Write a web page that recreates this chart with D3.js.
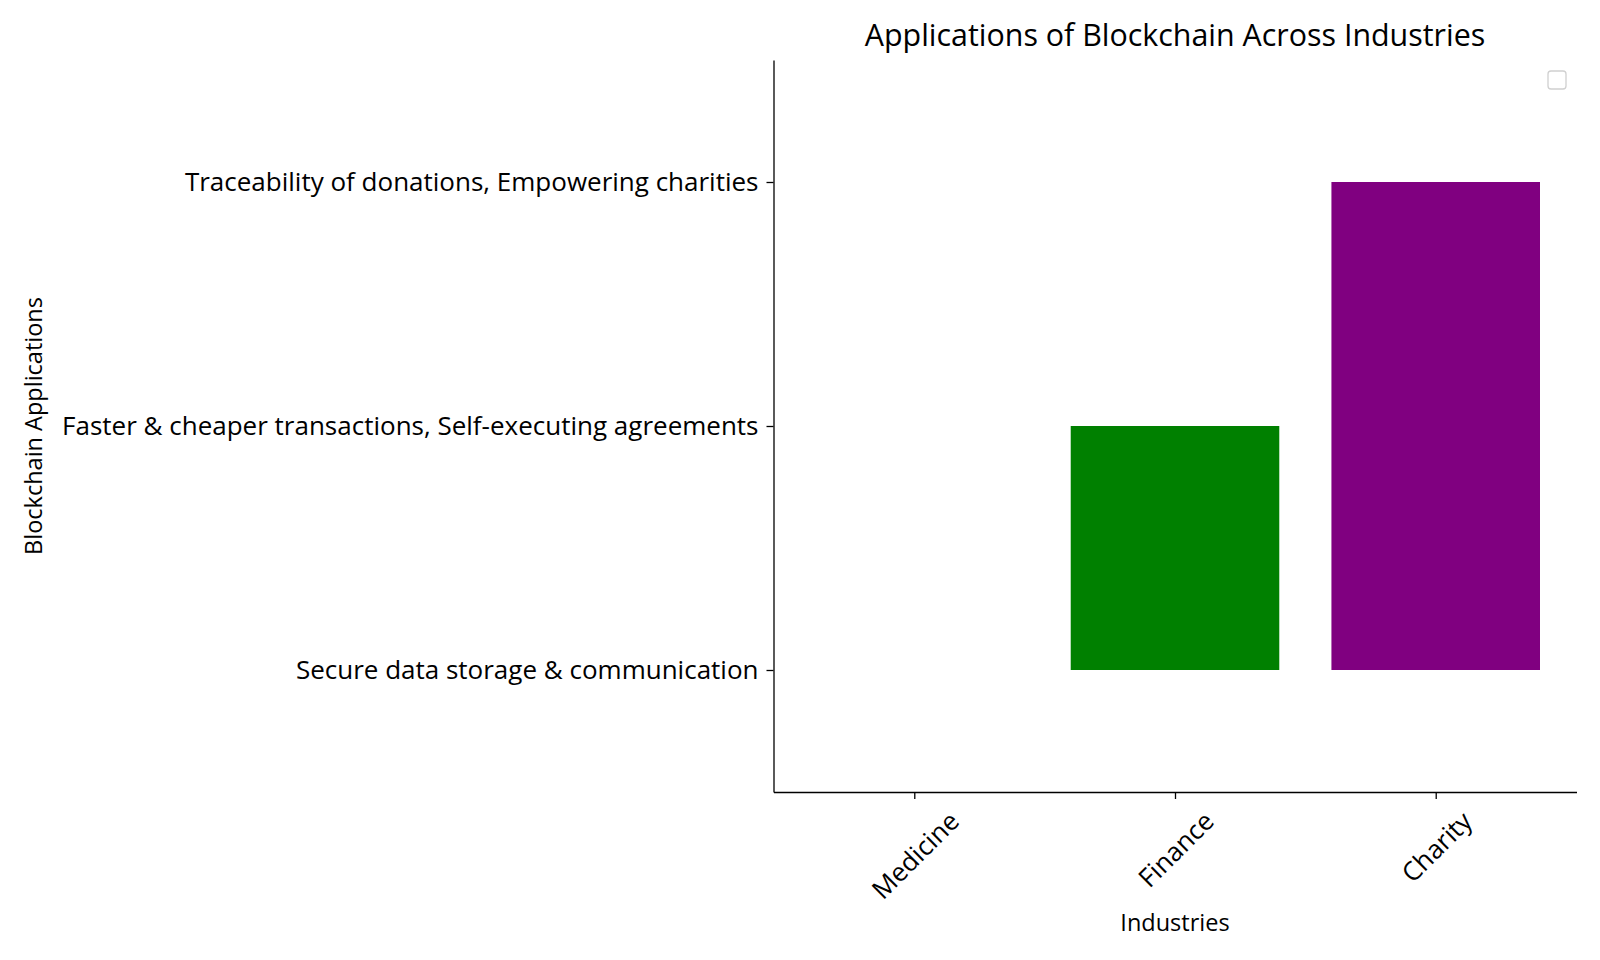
<!DOCTYPE html>
<html>
<head>
<meta charset="utf-8">
<script src="https://cdn.jsdelivr.net/npm/d3@7"></script>
<style>
  html, body { margin: 0; padding: 0; background: #fff; }
  svg { display: block; font-family: "Open Sans", sans-serif; }
  .tick text { fill: #000; font-family: "Open Sans", sans-serif; }
</style>
</head>
<body>
<svg id="chart" width="1600" height="960"></svg>
<script>
// categories on the x axis
var industries = ["Medicine", "Finance", "Charity"];

// categories on the y axis (bottom to top)
var applications = [
  "Secure data storage & communication",
  "Faster & cheaper transactions, Self-executing agreements",
  "Traceability of donations, Empowering charities"
];

// the application each industry maps to
var industryApps = [
  "Secure data storage & communication",
  "Faster & cheaper transactions, Self-executing agreements",
  "Traceability of donations, Empowering charities"
];

var barColors = ["#1f77b4", "#008000", "#800080"];

var chartTitle = "Applications of Blockchain Across Industries";
var xLabel = "Industries";
var yLabel = "Blockchain Applications";

var margin = { top: 60, right: 23.5, bottom: 168, left: 773.5 },
    width = 1600 - margin.left - margin.right,
    height = 960 - margin.top - margin.bottom;

var tickFont = 26;

var svg = d3.select("#chart");
var g = svg.append("g")
  .attr("transform", "translate(" + margin.left + "," + margin.top + ")");

// matplotlib style: bars of width 0.8 at 0..n-1, with 5% margins
var barWidth = 0.8;
var xPad = (industries.length - 1 + barWidth) * 0.05;
var x = d3.scaleLinear()
  .domain([-barWidth / 2 - xPad, industries.length - 1 + barWidth / 2 + xPad])
  .range([0, width]);

var y = d3.scaleLinear()
  .domain([-0.5, applications.length - 0.5])
  .range([height, 0]);

// bars
g.selectAll(".bar")
  .data(industries)
  .enter().append("rect")
  .attr("class", "bar")
  .attr("x", function(d, i) { return x(i - barWidth / 2); })
  .attr("width", function() { return x(barWidth) - x(0); })
  .attr("y", function(d, i) { return y(applications.indexOf(industryApps[i])); })
  .attr("height", function(d, i) { return y(0) - y(applications.indexOf(industryApps[i])); })
  .attr("fill", function(d, i) { return barColors[i]; });

// x axis
var xAxis = g.append("g")
  .attr("transform", "translate(0," + height + ")")
  .call(d3.axisBottom(x)
    .tickValues(d3.range(industries.length))
    .tickFormat(function(d) { return industries[d]; })
    .tickSize(7)
    .tickSizeOuter(0));

xAxis.attr("font-family", null).attr("font-size", null);
xAxis.select(".domain").attr("stroke", "#000").attr("stroke-width", 1.3);
xAxis.selectAll(".tick line").attr("stroke", "#000").attr("stroke-width", 1.3);

// rotate labels 45deg, centred under the tick like matplotlib's ha=center
xAxis.selectAll(".tick text")
  .attr("font-size", tickFont)
  .attr("text-anchor", "middle")
  .attr("dy", null)
  .attr("y", null)
  .each(function() {
    var t = d3.select(this);
    var w = this.getComputedTextLength();
    var h = tickFont * 0.75;
    var boxH = (w + h) / Math.SQRT2;
    var cy = 7 + 10 + boxH / 2;
    t.attr("dominant-baseline", "central")
      .attr("transform", "translate(0," + cy + ") rotate(-45)");
  });

// y axis
var yAxis = g.append("g")
  .call(d3.axisLeft(y)
    .tickValues(d3.range(applications.length))
    .tickFormat(function(d) { return applications[d]; })
    .tickSize(7)
    .tickSizeOuter(0));

yAxis.attr("font-family", null).attr("font-size", null);
yAxis.select(".domain").attr("stroke", "#000").attr("stroke-width", 1.3);
yAxis.selectAll(".tick line").attr("stroke", "#000").attr("stroke-width", 1.3);
yAxis.selectAll(".tick text")
  .attr("font-size", tickFont)
  .attr("x", -15);

// title
svg.append("text")
  .attr("x", margin.left + width / 2)
  .attr("y", 46)
  .attr("text-anchor", "middle")
  .attr("font-size", 30.4)
  .text(chartTitle);

// axis labels
svg.append("text")
  .attr("x", margin.left + width / 2)
  .attr("y", 931)
  .attr("text-anchor", "middle")
  .attr("font-size", 23.5)
  .text(xLabel);

svg.append("text")
  .attr("transform", "translate(42," + (margin.top + height / 2) + ") rotate(-90)")
  .attr("text-anchor", "middle")
  .attr("font-size", 23.5)
  .text(yLabel);

// empty legend frame in the corner
svg.append("rect")
  .attr("x", 1548)
  .attr("y", 71)
  .attr("width", 18)
  .attr("height", 18)
  .attr("rx", 3)
  .attr("fill", "#fff")
  .attr("stroke", "#d0d0d0")
  .attr("stroke-width", 1.3);
</script>
</body>
</html>
